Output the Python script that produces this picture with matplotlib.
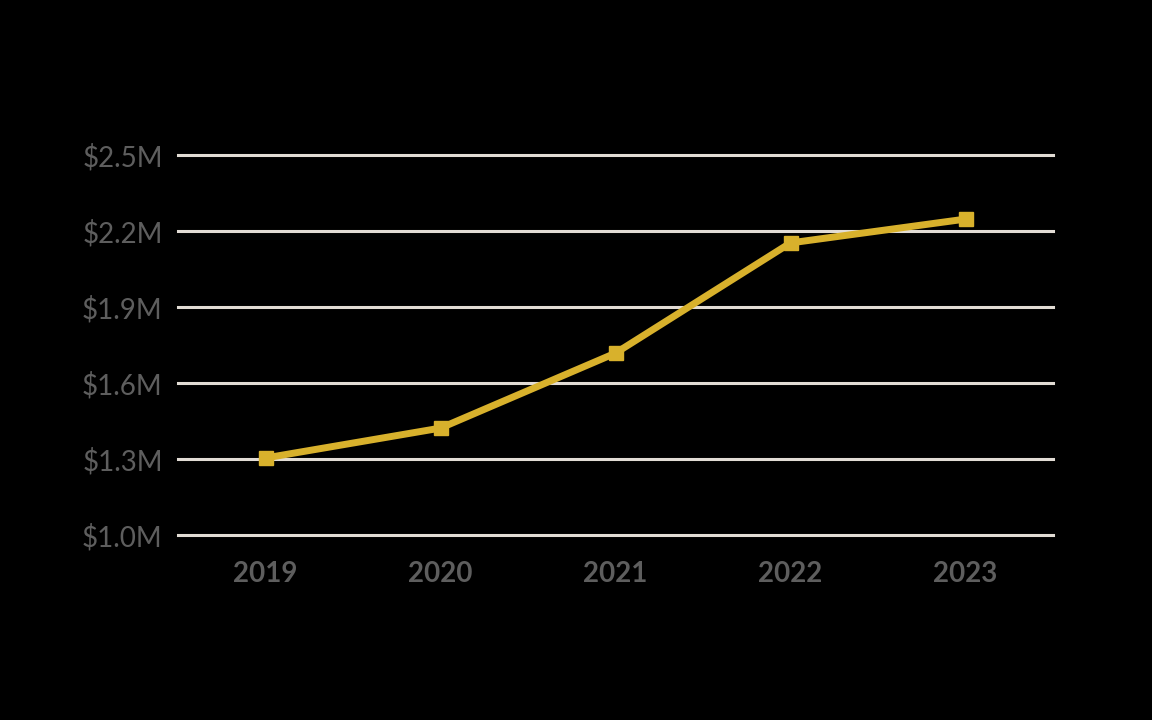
import matplotlib
matplotlib.use("Agg")
from matplotlib import pyplot as plt
from matplotlib.ticker import FuncFormatter

years = ["2019", "2020", "2021", "2022", "2023"]
values = [1.304, 1.422, 1.718, 2.153, 2.247]  # millions of dollars
yticks = [1.0, 1.3, 1.6, 1.9, 2.2, 2.5]

line_color = "#D8B12C"
grid_color = "#E2DCD5"
text_color = "#5E5E5E"

fig = plt.figure(figsize=(11.52, 7.2), dpi=100, facecolor="black")
ax = fig.add_axes([178 / 1152, 1 - 535 / 720, (1053 - 178) / 1152, (535 - 155) / 720])
ax.set_facecolor("black")

x = range(len(years))
ax.plot(x, values, color=line_color, linewidth=5, marker="s", markersize=10,
        zorder=3)

ax.set_xlim(-0.5, len(years) - 0.5)
ax.set_ylim(yticks[0], yticks[-1])
ax.set_xticks(list(x))
ax.set_xticklabels(years)
ax.set_yticks(yticks)
ax.yaxis.set_major_formatter(FuncFormatter(lambda v, p: "${:.1f}M".format(v)))

ax.grid(axis="y", color=grid_color, linewidth=2.2)
ax.set_axisbelow(True)
for gl in ax.get_ygridlines():
    gl.set_clip_on(False)

for s in ax.spines.values():
    s.set_visible(False)

ax.tick_params(axis="both", length=0)
ax.tick_params(axis="y", pad=11, labelsize=20, labelcolor=text_color)
ax.tick_params(axis="x", pad=19, labelsize=20, labelcolor=text_color)
for lab in ax.get_yticklabels():
    lab.set_fontfamily("Lato")
for lab in ax.get_xticklabels():
    lab.set_fontfamily("Lato")
    lab.set_fontweight("bold")

fig.savefig("out.png", dpi=100, facecolor="black")
